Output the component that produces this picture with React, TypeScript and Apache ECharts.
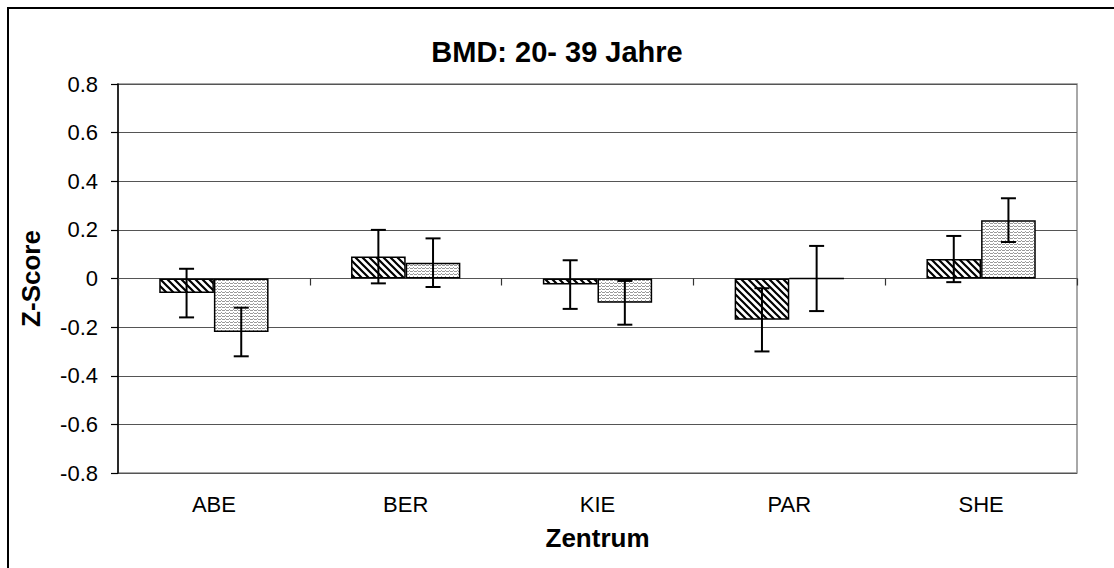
import React, { useEffect, useRef } from "react";
import * as echarts from "echarts";

const categories = ["ABE", "BER", "KIE", "PAR", "SHE"];
const series1Values = [-0.06, 0.09, -0.025, -0.17, 0.08];
const series1Errors = [0.1, 0.11, 0.1, 0.13, 0.095];
const series2Values = [-0.22, 0.065, -0.1, 0, 0.24];
const series2Errors = [0.1, 0.1, 0.09, 0.134, 0.09];
const yTicks = { min: -0.8, max: 0.8, interval: 0.2 };

const BAR_GAP_RATIO = 0.43;

function makeHatch(): HTMLCanvasElement {
  const c = document.createElement("canvas");
  const s = 7;
  c.width = s;
  c.height = s;
  const ctx = c.getContext("2d")!;
  ctx.fillStyle = "#fff";
  ctx.fillRect(0, 0, s, s);
  ctx.strokeStyle = "#000";
  ctx.lineWidth = 2.2;
  ctx.beginPath();
  ctx.moveTo(-1, -1);
  ctx.lineTo(s + 1, s + 1);
  ctx.moveTo(-1 - s, -1);
  ctx.lineTo(1, s + 1);
  ctx.moveTo(s - 1, -1);
  ctx.lineTo(2 * s + 1, s + 1);
  ctx.stroke();
  return c;
}

function makeWave(): HTMLCanvasElement {
  const c = document.createElement("canvas");
  c.width = 4;
  c.height = 3;
  const ctx = c.getContext("2d")!;
  ctx.fillStyle = "#fff";
  ctx.fillRect(0, 0, 4, 3);
  ctx.fillStyle = "#9a9a9a";
  const pts = [
    [0, 1], [1, 0], [2, 1], [3, 1],
  ];
  pts.forEach(([x, y]) => ctx.fillRect(x, y, 1, 1));
  return c;
}

export default function App() {
  const ref = useRef<HTMLDivElement>(null);
  useEffect(() => {
    if (!ref.current) return;
    const chart = echarts.init(ref.current, undefined, { renderer: "svg" });
    const hatch = makeHatch();
    const wave = makeWave();

    const errData = (vals: number[], errs: number[]) =>
      vals.map((v, i) => [i, v, errs[i]]);

    const makeErr = (side: number) => (params: any, api: any) => {
      const idx = api.value(0);
      const v = api.value(1);
      const e = api.value(2);
      const band = api.size([1, 0])[0];
      const bw = (band * (1 - BAR_GAP_RATIO)) / 2;
      const center = api.coord([idx, v]);
      const x = center[0] + (side * bw) / 2;
      const top = api.coord([idx, v + e])[1];
      const bot = api.coord([idx, v - e])[1];
      const cap = 7.5;
      const style = { stroke: "#000", lineWidth: 2 };
      return {
        type: "group",
        children: [
          { type: "line", shape: { x1: x, y1: top, x2: x, y2: bot }, style },
          { type: "line", shape: { x1: x - cap, y1: top, x2: x + cap, y2: top }, style },
          { type: "line", shape: { x1: x - cap, y1: bot, x2: x + cap, y2: bot }, style },
        ],
      };
    };

    const font = "'Liberation Sans', Arial, sans-serif";

    chart.setOption({
      animation: false,
      backgroundColor: "#fff",
      textStyle: { fontFamily: font },
      title: {
        text: "BMD: 20- 39 Jahre",
        left: "center",
        top: 32,
        textStyle: { fontFamily: font, fontSize: 29, fontWeight: "bold", color: "#000" },
      },
      graphic: [
        {
          type: "rect",
          shape: { x: 8, y: 8, width: 1120, height: 580 },
          style: { fill: "none", stroke: "#000", lineWidth: 2 },
          silent: true,
        },
      ],
      grid: {
        left: 118,
        right: 37,
        top: 84,
        bottom: 95,
        show: true,
        borderColor: "#8c8c8c",
        borderWidth: 1.5,
        containLabel: false,
      },
      xAxis: [
        {
          type: "category",
          data: categories,
          position: "bottom",
          axisLine: { show: false, onZero: false },
          axisTick: { show: false },
          axisLabel: { fontSize: 22, color: "#000", margin: 20, fontFamily: font },
          name: "Zentrum",
          nameLocation: "middle",
          nameGap: 52,
          nameTextStyle: { fontSize: 26, fontWeight: "bold", color: "#000", fontFamily: font },
        },
        {
          type: "category",
          data: categories,
          position: "bottom",
          axisLine: { show: true, onZero: true, lineStyle: { color: "#555", width: 1.2 } },
          axisTick: { show: true, length: 7, inside: false, lineStyle: { color: "#333", width: 1.2 } },
          axisLabel: { show: false },
          splitLine: { show: false },
        },
      ],
      yAxis: {
        type: "value",
        min: yTicks.min,
        max: yTicks.max,
        interval: yTicks.interval,
        axisLine: { show: true, lineStyle: { color: "#000", width: 1.5 } },
        axisTick: { show: true, length: 7, lineStyle: { color: "#000", width: 1.2 } },
        axisLabel: {
          fontSize: 22,
          color: "#000",
          margin: 20,
          fontFamily: font,
          formatter: (v: number) => String(Math.round(v * 10) / 10),
        },
        splitLine: { show: true, lineStyle: { color: "#555", width: 1.2 } },
        name: "Z-Score",
        nameLocation: "middle",
        nameRotate: 90,
        nameGap: 74,
        nameTextStyle: { fontSize: 26, fontWeight: "bold", color: "#000", fontFamily: font },
      },
      series: [
        {
          type: "bar",
          xAxisIndex: 1,
          data: series1Values,
          barGap: "0%",
          barCategoryGap: BAR_GAP_RATIO * 100 + "%",
          itemStyle: {
            color: { image: hatch, repeat: "repeat" } as any,
            borderColor: "#000",
            borderWidth: 1.5,
          },
        },
        {
          type: "bar",
          xAxisIndex: 1,
          data: series2Values,
          barGap: "0%",
          barCategoryGap: BAR_GAP_RATIO * 100 + "%",
          itemStyle: {
            color: { image: wave, repeat: "repeat" } as any,
            borderColor: "#000",
            borderWidth: 1.5,
          },
        },
        {
          type: "custom",
          xAxisIndex: 1,
          renderItem: makeErr(-1),
          data: errData(series1Values, series1Errors),
          z: 10,
        },
        {
          type: "custom",
          xAxisIndex: 1,
          renderItem: makeErr(1),
          data: errData(series2Values, series2Errors),
          z: 10,
        },
      ],
    });
    return () => chart.dispose();
  }, []);
  return (
    <div
      ref={ref}
      style={{ position: "absolute", left: 0, top: 0, width: 1114, height: 568 }}
    />
  );
}
